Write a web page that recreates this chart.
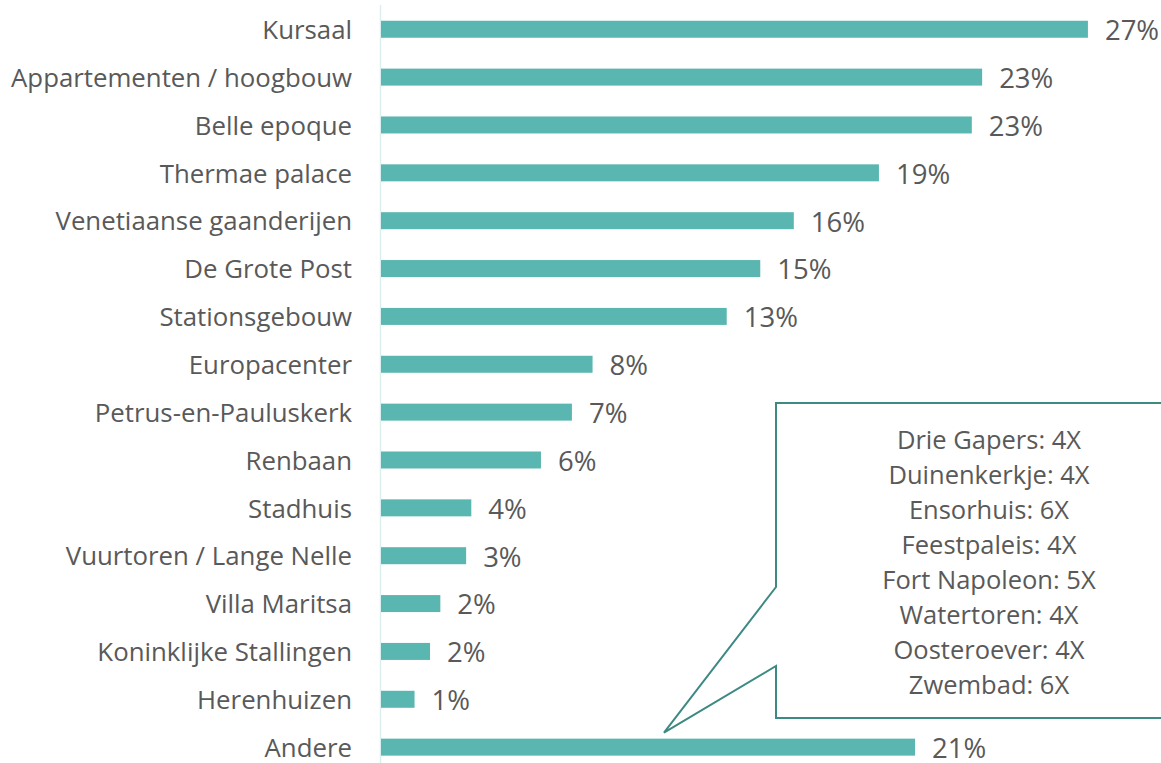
<!DOCTYPE html>
<html>
<head>
<meta charset="utf-8">
<script src="https://cdn.jsdelivr.net/npm/d3@7"></script>
<style>
  body { margin: 0; background: #fff; }
  svg { display: block; }
  text { font-family: "Open Sans", Lato, sans-serif; fill: #595959; }
</style>
</head>
<body>
<div id="chart"></div>
<script>
const categories = [
  'Kursaal',
  'Appartementen / hoogbouw',
  'Belle epoque',
  'Thermae palace',
  'Venetiaanse gaanderijen',
  'De Grote Post',
  'Stationsgebouw',
  'Europacenter',
  'Petrus-en-Pauluskerk',
  'Renbaan',
  'Stadhuis',
  'Vuurtoren / Lange Nelle',
  'Villa Maritsa',
  'Koninklijke Stallingen',
  'Herenhuizen',
  'Andere'
];
const values = [27.4, 23.3, 22.9, 19.3, 16.0, 14.7, 13.4, 8.2, 7.4, 6.2, 3.5, 3.3, 2.3, 1.9, 1.3, 20.7];
const valueLabels = ['27%', '23%', '23%', '19%', '16%', '15%', '13%', '8%', '7%', '6%', '4%', '3%', '2%', '2%', '1%', '21%'];
const otherItems = [
  'Drie Gapers: 4X',
  'Duinenkerkje: 4X',
  'Ensorhuis: 6X',
  'Feestpaleis: 4X',
  'Fort Napoleon: 5X',
  'Watertoren: 4X',
  'Oosteroever: 4X',
  'Zwembad: 6X'
];

const width = 1161;
const height = 763;
const margin = { top: 6.4, right: 6, bottom: -7, left: 381 };

const svg = d3
  .select('#chart')
  .append('svg')
  .attr('width', width)
  .attr('height', height);

const xScale = d3
  .scaleLinear()
  .domain([0, 30])
  .range([margin.left, margin.left + 774]);

const yScale = d3
  .scaleBand()
  .domain(categories)
  .range([margin.top, height - margin.bottom])
  .paddingInner(0.645)
  .paddingOuter(0.3);

// vertical axis line
svg
  .append('line')
  .attr('x1', xScale(0) - 0.5)
  .attr('x2', xScale(0) - 0.5)
  .attr('y1', 5)
  .attr('y2', height)
  .attr('stroke', '#dcefef')
  .attr('stroke-width', 1.5);

svg
  .selectAll('.bar')
  .data(categories)
  .enter()
  .append('rect')
  .attr('class', 'bar')
  .attr('x', xScale(0))
  .attr('y', (d) => yScale(d))
  .attr('width', (d, i) => xScale(values[i]) - xScale(0))
  .attr('height', yScale.bandwidth())
  .attr('fill', '#5ab6b0');

// category labels
svg
  .selectAll('.cat')
  .data(categories)
  .enter()
  .append('text')
  .attr('class', 'cat')
  .attr('x', xScale(0) - 29)
  .attr('y', (d) => yScale(d) + yScale.bandwidth() / 2 + 0.5)
  .attr('dy', '0.36em')
  .attr('text-anchor', 'end')
  .style('font-size', '25.8px')
  .text((d) => d);

// value labels
svg
  .selectAll('.val')
  .data(categories)
  .enter()
  .append('text')
  .attr('class', 'val')
  .attr('x', (d, i) => xScale(values[i]) + 17)
  .attr('y', (d) => yScale(d) + yScale.bandwidth() / 2 + 1)
  .attr('dy', '0.36em')
  .style('font-size', '27.5px')
  .text((d, i) => valueLabels[i]);

// callout for "Andere"
const last = categories[categories.length - 1];
const tipX = xScale(0) + 283;
const tipY = yScale(last) - 6;
const boxLeft = 776;
const boxTop = 403;
const boxBottom = 718;
const boxRight = width + 4;

const callout = d3.path();
callout.moveTo(boxLeft, boxTop);
callout.lineTo(boxRight, boxTop);
callout.lineTo(boxRight, boxBottom);
callout.lineTo(boxLeft, boxBottom);
callout.lineTo(boxLeft, 666);
callout.lineTo(tipX, tipY);
callout.lineTo(boxLeft, 587);
callout.closePath();

svg
  .append('path')
  .attr('d', callout.toString())
  .attr('fill', '#fff')
  .attr('stroke', '#3d8a83')
  .attr('stroke-width', 2);

svg
  .selectAll('.other')
  .data(otherItems)
  .enter()
  .append('text')
  .attr('class', 'other')
  .attr('x', 989)
  .attr('y', (d, i) => 440 + i * 35)
  .attr('dy', '0.36em')
  .attr('text-anchor', 'middle')
  .style('font-size', '25.5px')
  .text((d) => d);
</script>
</body>
</html>
